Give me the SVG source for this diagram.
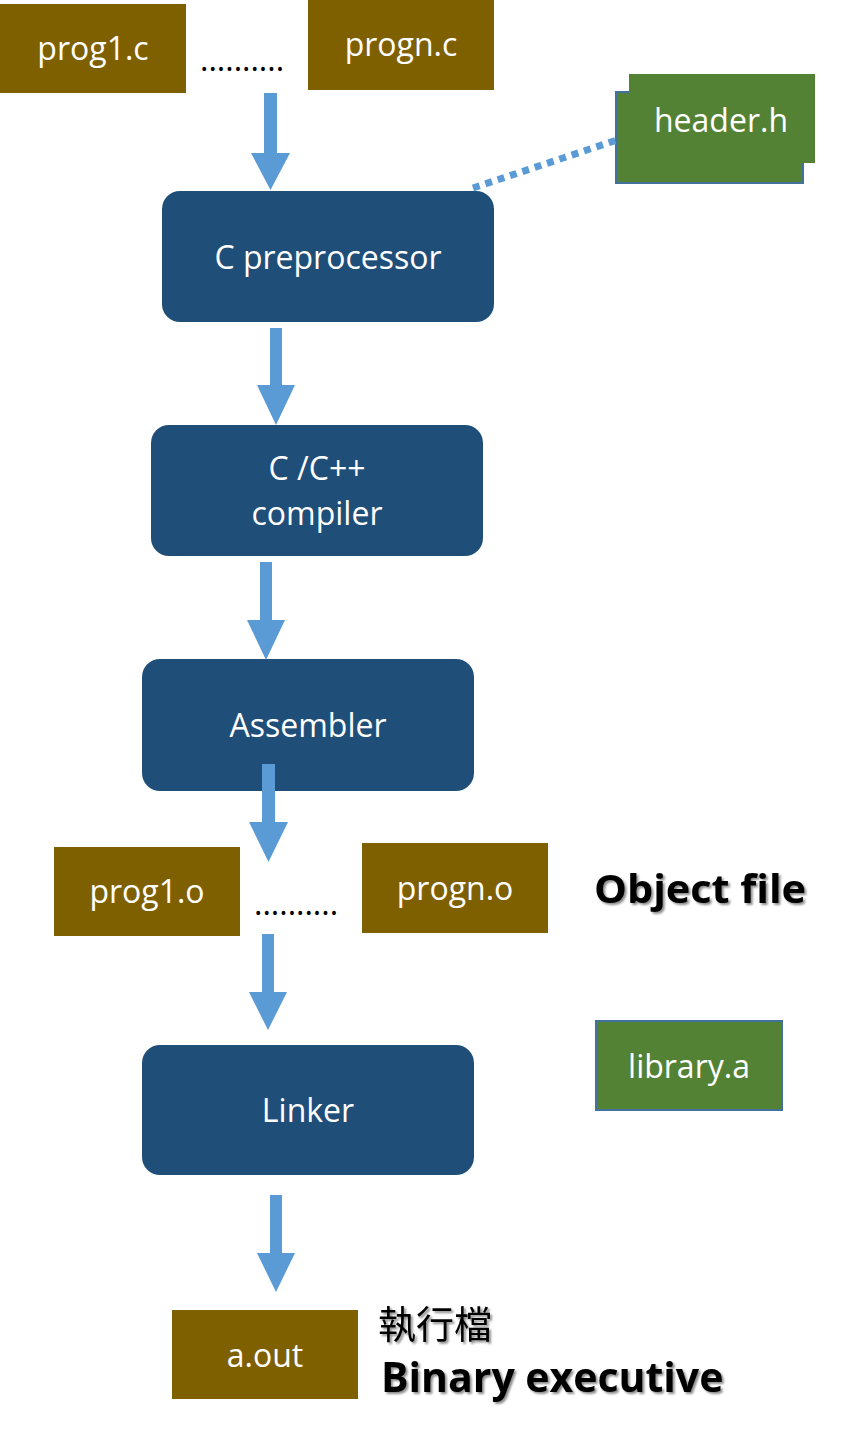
<svg xmlns="http://www.w3.org/2000/svg" width="843" height="1442" viewBox="0 0 843 1442">
<defs>
<style>
.file{fill:#7F6000}
.proc{fill:#1F4E79}
.grn{fill:#548235}
.bord{stroke:#41719C;stroke-width:2}
.t{fill:#fff;font-family:"Open Sans","Noto Sans",sans-serif;font-size:32px;text-anchor:middle}
.dots{fill:#000;font-family:"Open Sans",sans-serif;font-size:32px}
.big{fill:#000;font-family:"Open Sans","Noto Sans",sans-serif;font-weight:bold;filter:url(#sh)}
.arr{fill:#5B9BD5}
</style>
<filter id="sh" x="-5%" y="-20%" width="110%" height="140%">
<feDropShadow dx="2" dy="2" stdDeviation="1" flood-color="#000" flood-opacity="0.45"/>
</filter>
</defs>
<g id="prog1c"><rect class="file" x="0" y="4" width="186" height="89"/><text class="t" x="93" y="60">prog1.c</text></g>
<text class="dots" x="200" y="71">..........</text>
<g id="prognc"><rect class="file" x="308" y="0" width="186" height="90"/><text class="t" x="401" y="56">progn.c</text></g>
<g id="headerh"><rect class="grn bord" x="616" y="92" width="187" height="91"/><rect class="grn" x="629" y="74" width="186" height="89"/><text class="t" x="721" y="132">header.h</text></g>
<g id="cpp"><rect class="proc" x="162" y="191" width="332" height="131" rx="18"/><text class="t" x="328" y="269">C preprocessor</text></g>
<g id="compiler"><rect class="proc" x="151" y="425" width="332" height="131" rx="18"/><text class="t" x="317" y="480">C /C++</text><text class="t" x="317" y="525">compiler</text></g>
<g id="assembler"><rect class="proc" x="142" y="659" width="332" height="132" rx="18"/><text class="t" x="308" y="737">Assembler</text></g>
<g id="prog1o"><rect class="file" x="54" y="847" width="186" height="89"/><text class="t" x="147" y="903">prog1.o</text></g>
<text class="dots" x="254" y="915">..........</text>
<g id="progno"><rect class="file" x="362" y="843" width="186" height="90"/><text class="t" x="455" y="900">progn.o</text></g>
<text class="big" x="594" y="903" font-size="40" textLength="212" lengthAdjust="spacingAndGlyphs">Object file</text>
<g id="librarya"><rect class="grn bord" x="596" y="1021" width="186" height="89"/><text class="t" x="689" y="1078">library.a</text></g>
<g id="linker"><rect class="proc" x="142" y="1045" width="332" height="130" rx="18"/><text class="t" x="308" y="1122">Linker</text></g>
<g id="aout"><rect class="file" x="172" y="1310" width="186" height="89"/><text class="t" x="265" y="1367">a.out</text></g>
<text x="378" y="1338" font-size="38" fill="#000" font-family="'Noto Sans CJK TC',sans-serif" filter="url(#sh)">執行檔</text>
<text class="big" x="381" y="1392" font-size="41">Binary executive</text>
<g id="connectors">
<path class="arr" d="M264,93h13v60h13l-19.5,37l-19.5,-37h13z"/>
<path class="arr" d="M270,328h12v57h13l-19,40l-19,-40h13z"/>
<path class="arr" d="M260,562h12v58h13l-19,40l-19,-40h13z"/>
<path class="arr" d="M262,764h13v58h13l-19.5,40l-19.5,-40h13z"/>
<path class="arr" d="M262,934h12v58h13l-19,38l-19,-38h13z"/>
<path class="arr" d="M270,1195h12v58h13l-19,39l-19,-39h13z"/>
<line x1="473" y1="188" x2="617" y2="140" stroke="#5B9BD5" stroke-width="7" stroke-dasharray="7,6"/>
</g>
</svg>
